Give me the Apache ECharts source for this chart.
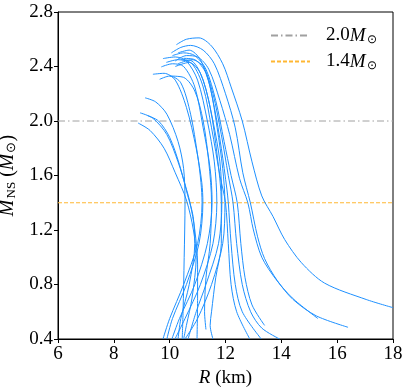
<!DOCTYPE html>
<html>
<head>
<meta charset="utf-8">
<script src="https://cdn.jsdelivr.net/npm/echarts@6/dist/echarts.min.js"></script>
<style>
  html, body { margin: 0; padding: 0; background: #fff; }
  #chart { width: 409px; height: 391px; }
</style>
</head>
<body>
<div id="chart"></div>
<script>
// axis ranges and ticks
const xRange = [6, 18]
const yRange = [0.4, 2.8]
const xStep = 2
const yStep = 0.4

// reference masses
const refMasses = [2.0, 1.4]

// mass-radius curves: [R (km), M (Msun)]
const curveR1 = [[10.24, 2.56], [10.6, 2.6], [11.05, 2.61], [11.5, 2.55], [11.9, 2.42], [12.2, 2.25], [12.6, 2.0], [12.95, 1.7], [13.3, 1.45], [13.7, 1.3], [14.12, 1.13], [14.72, 0.96], [15.55, 0.81], [17.04, 0.69], [18.0, 0.63]]
const curveR2 = [[10.06, 2.50], [10.4, 2.54], [10.75, 2.555], [11.2, 2.52], [11.6, 2.42], [12.0, 2.2], [12.35, 1.95], [12.62, 1.62], [12.89, 1.4], [13.15, 1.15], [13.4, 0.99], [13.85, 0.83], [14.42, 0.69], [15.25, 0.57], [16.39, 0.486]]
const curveR3 = [[10.2, 2.44], [10.6, 2.48], [11.0, 2.47], [11.4, 2.38], [11.8, 2.15], [12.15, 1.9], [12.5, 1.58], [12.8, 1.4], [13.0, 1.2], [13.3, 1.0], [13.8, 0.84], [14.4, 0.7], [15.31, 0.55]]
const curveR4 = [[10.1, 2.48], [10.5, 2.5], [10.9, 2.48], [11.3, 2.38], [11.65, 2.15], [11.95, 1.85], [12.2, 1.6], [12.42, 1.4], [12.55, 1.1], [12.7, 0.85], [12.95, 0.65], [13.4, 0.5]]
const curveR5 = [[10.3, 2.42], [10.8, 2.45], [11.2, 2.4], [11.55, 2.2], [11.85, 1.9], [12.1, 1.6], [12.27, 1.4], [12.4, 1.1], [12.6, 0.8], [12.9, 0.6], [13.3, 0.48], [13.94, 0.4]]
const curveR6 = [[9.88, 2.43], [10.3, 2.45], [10.8, 2.42], [11.2, 2.25], [11.5, 1.95], [11.8, 1.6], [12.0, 1.4], [12.1, 1.1], [12.2, 0.8], [12.4, 0.6], [12.87, 0.4]]
const curveR7 = [[10.5, 2.46], [10.9, 2.45], [11.3, 2.35], [11.6, 2.1], [11.85, 1.8], [12.05, 1.5], [12.1, 1.4], [12.2, 1.1], [12.35, 0.8], [12.6, 0.6], [13.28, 0.4]]
const curveV1 = [[10.0, 2.33], [10.5, 2.32], [10.9, 2.22], [11.2, 2.0], [11.4, 1.7], [11.5, 1.4], [11.45, 1.1], [11.3, 0.85], [11.25, 0.6], [11.3, 0.47]]
const curveV2 = [[10.2, 2.4], [10.7, 2.43], [11.1, 2.35], [11.45, 2.1], [11.7, 1.75], [11.85, 1.4], [11.85, 1.1], [11.65, 0.85], [11.5, 0.6], [11.45, 0.5], [11.55, 0.4]]
const curveB1 = [[9.76, 2.458], [10.2, 2.47], [10.6, 2.44], [11.0, 2.3], [11.35, 2.0], [11.6, 1.7], [11.69, 1.4], [11.55, 1.1], [11.1, 0.8], [10.55, 0.55], [10.19, 0.4]]
const curveB2 = [[9.7, 2.397], [10.1, 2.42], [10.5, 2.4], [10.9, 2.25], [11.2, 1.95], [11.45, 1.65], [11.52, 1.4], [11.35, 1.1], [10.9, 0.8], [10.35, 0.55], [10.08, 0.4]]
const curveB3 = [[9.4, 2.343], [9.8, 2.35], [10.2, 2.3], [10.6, 2.1], [10.95, 1.8], [11.15, 1.55], [11.19, 1.4], [11.05, 1.1], [10.6, 0.8], [10.1, 0.55], [9.9, 0.4]]
const curveB4 = [[9.64, 2.306], [10.0, 2.33], [10.4, 2.28], [10.75, 2.05], [11.0, 1.75], [11.12, 1.55], [11.16, 1.4], [11.0, 1.1], [10.5, 0.8], [10.0, 0.55], [9.76, 0.4]]
const curveB5 = [[10.4, 2.45], [10.8, 2.44], [11.2, 2.3], [11.55, 2.0], [11.8, 1.7], [11.87, 1.4], [11.75, 1.1], [11.3, 0.8], [10.95, 0.6], [10.66, 0.4]]
const curveB6 = [[10.3, 2.5], [10.7, 2.52], [11.1, 2.45], [11.45, 2.25], [11.7, 1.95], [11.9, 1.65], [11.98, 1.4], [11.9, 1.1], [11.5, 0.8], [11.0, 0.55], [10.55, 0.4]]
const curveL1 = [[9.12, 2.17], [9.5, 2.14], [9.9, 2.05], [10.3, 1.85], [10.5, 1.65], [10.55, 1.4], [10.52, 1.0], [10.48, 0.6], [10.45, 0.4]]
const curveL2 = [[8.94, 2.06], [9.4, 2.02], [9.9, 1.9], [10.3, 1.7], [10.6, 1.5], [10.73, 1.4], [10.9, 1.2], [11.0, 0.95], [11.0, 0.7], [10.98, 0.4]]
const curveL3 = [[8.87, 1.985], [9.3, 1.93], [9.8, 1.8], [10.2, 1.62], [10.6, 1.42], [10.85, 1.2], [10.95, 1.0], [10.8, 0.7], [10.6, 0.5], [10.5, 0.4]]
const curveL4 = [[9.2, 2.04], [9.6, 2.0], [10.0, 1.88], [10.35, 1.68], [10.65, 1.45], [10.84, 1.3], [10.9, 1.1], [10.7, 0.8], [10.4, 0.55], [10.3, 0.4]]

const curves = [curveR1, curveR2, curveR3, curveR4, curveR5, curveR6, curveR7, curveV1, curveV2,
  curveB1, curveB2, curveB3, curveB4, curveB5, curveB6, curveL1, curveL2, curveL3, curveL4]

const serif = 'Liberation Serif'
const chart = echarts.init(document.getElementById('chart'))

const curveSeries = curves.map(c => ({
  type: 'line',
  data: c,
  smooth: 0.3,
  symbol: 'none',
  silent: true,
  lineStyle: { color: '#1E90FF', width: 1 },
  z: 3
}))

const refSeries = [
  { name: '2.0', color: '#a0a0a0', type: [7, 3, 1.5, 3] },
  { name: '1.4', color: '#FFB733', type: [4, 2] }
].map((r, i) => ({
  name: r.name,
  type: 'line',
  data: [[xRange[0], refMasses[i]], [xRange[1], refMasses[i]]],
  symbol: 'none',
  silent: true,
  lineStyle: { color: r.color, width: 1, type: r.type },
  itemStyle: { color: r.color },
  z: 2
}))

const richM = {
  n: { fontFamily: serif, fontSize: 19, color: '#000' },
  m: { fontFamily: serif, fontSize: 19, fontStyle: 'italic', color: '#000' },
  s: { fontFamily: serif, fontSize: 12, color: '#000', padding: [9, 0, 0, 1] }
}

chart.setOption({
  animation: false,
  grid: { left: 58, right: 16, top: 12, bottom: 52, show: true, borderColor: '#000', borderWidth: 1, outerBoundsMode: 'none' },
  legend: {
    orient: 'vertical',
    left: 265,
    top: 21,
    itemWidth: 39,
    itemHeight: 14,
    itemGap: 6,
    data: ['2.0', '1.4'],
    itemStyle: { opacity: 0 },
    formatter: name => `{n|${name}}{m|M}{s|⊙}`,
    textStyle: { padding: [0, 0, 0, 11], rich: richM }
  },
  xAxis: {
    type: 'value',
    min: xRange[0], max: xRange[1], interval: xStep,
    name: '{m|R}{n| (km)}',
    nameLocation: 'middle',
    nameGap: 25,
    nameTextStyle: { rich: richM },
    axisLine: { show: true, lineStyle: { color: '#000' } },
    axisTick: { show: true, length: 4, lineStyle: { color: '#000' } },
    axisLabel: { margin: 6, fontFamily: serif, fontSize: 19, color: '#000' },
    splitLine: { show: false }
  },
  yAxis: {
    type: 'value',
    min: yRange[0], max: yRange[1], interval: yStep,
    name: '{m|M}{s|NS}{n| (}{m|M}{s|⊙}{n|)}',
    nameLocation: 'middle',
    nameGap: 33,
    nameRotate: 90,
    nameTextStyle: { rich: {
      n: { fontFamily: serif, fontSize: 20, color: '#000' },
      m: { fontFamily: serif, fontSize: 20, fontStyle: 'italic', color: '#000' },
      s: { fontFamily: serif, fontSize: 13, color: '#000', padding: [9, 0, 0, 1] }
    } },
    axisLine: { show: true, lineStyle: { color: '#000' } },
    axisTick: { show: true, length: 4, lineStyle: { color: '#000' } },
    axisLabel: { margin: 5, fontFamily: serif, fontSize: 19, color: '#000', formatter: v => v.toFixed(1) },
    splitLine: { show: false }
  },
  series: [...refSeries, ...curveSeries]
})
</script>
</body>
</html>
